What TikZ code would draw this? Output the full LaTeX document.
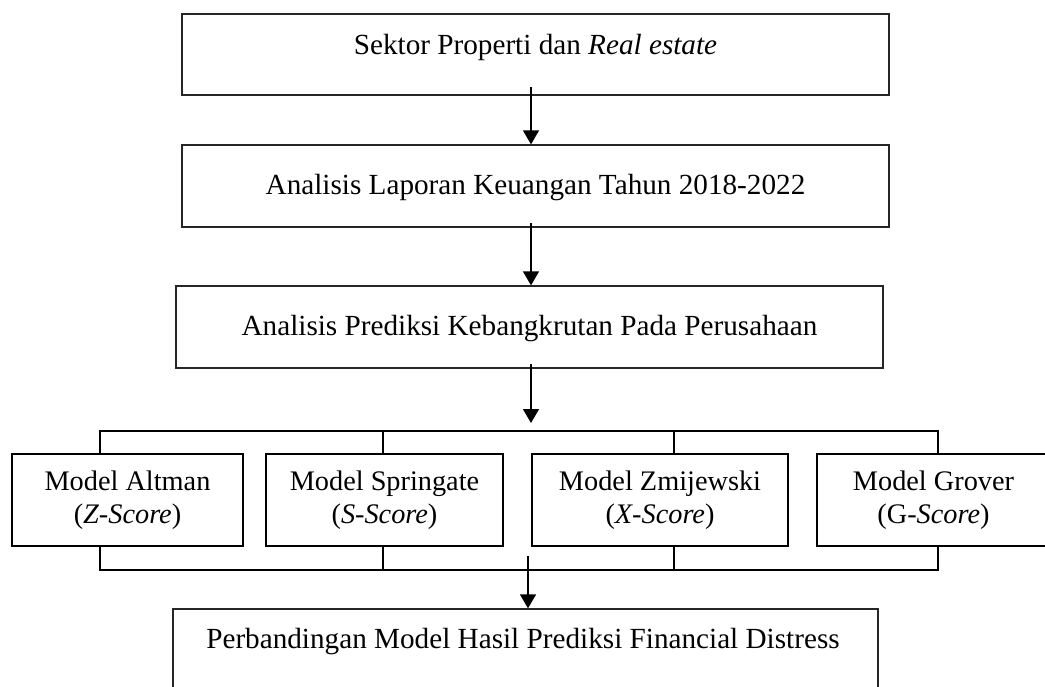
\documentclass[tikz,border=0pt]{standalone}
\usepackage{fontspec}
\setmainfont{Liberation Serif}
\usetikzlibrary{arrows.meta}
\begin{document}
\begin{tikzpicture}[x=1pt,y=-1pt,
 box/.style={draw=black!85, line width=1.3pt, inner sep=0pt},
 mbox/.style={draw=black, line width=2pt, inner sep=0pt, align=center,
   font=\fontsize{28.3}{33}\selectfont},
 lbl/.style={font=\fontsize{29.2}{33}\selectfont, inner sep=0pt, anchor=base},
 bus/.style={line width=2pt},
 arr/.style={line width=1.3pt, -{Triangle[width=16pt,length=14pt]}}]
\useasboundingbox (0,0) rectangle (1045,686);
% main boxes
\node[box, minimum width=707pt, minimum height=81pt] (b1) at (535.5,54.5) {};
\node[box, minimum width=707pt, minimum height=82pt] (b2) at (535.5,186) {};
\node[box, minimum width=707pt, minimum height=82pt] (b3) at (529.5,327) {};
\node[box, minimum width=705pt, minimum height=101pt] (b5) at (525.5,659.5) {};
% labels
\node[lbl] (t1) at (535.5,54) {Sektor Properti dan \textit{Real estate}};
\node[lbl] (t2) at (535.5,194) {Analisis Laporan Keuangan Tahun 2018-2022};
\node[lbl] (t3) at (529.5,335) {Analisis Prediksi Kebangkrutan Pada Perusahaan};
\node[lbl] (t5) at (523,648) {Perbandingan Model Hasil Prediksi Financial Distress};
% model boxes
\node[mbox, minimum width=231pt, minimum height=92pt] (m1) at (127.5,500) {Model Altman\\(\textit{Z-Score})};
\node[mbox, minimum width=237pt, minimum height=92pt] (m2) at (384.5,500) {Model Springate\\(\textit{S-Score})};
\node[mbox, minimum width=256pt, minimum height=92pt] (m3) at (660,500) {Model Zmijewski\\(\textit{X-Score})};
\node[mbox, minimum width=233pt, minimum height=92pt] (m4) at (933.5,500) {Model Grover\\(G-\textit{Score})};
% bus coordinates
\coordinate (ta) at (100,431);
\coordinate (tb) at (383,431);
\coordinate (tc) at (674,431);
\coordinate (td) at (938,431);
\coordinate (ba) at (100,570);
\coordinate (bb) at (383,570);
\coordinate (bc) at (674,570);
\coordinate (bd) at (938,570);
\draw[bus] (ta |- m1.north) -- (ta) -- (td) -- (td |- m4.north);
\draw[bus] (tb) -- (tb |- m2.north);
\draw[bus] (tc) -- (tc |- m3.north);
\draw[bus] (ba |- m1.south) -- (ba) -- (bd) -- (bd |- m4.south);
\draw[bus] (bb) -- (bb |- m2.south);
\draw[bus] (bc) -- (bc |- m3.south);
% arrows
\coordinate (a1) at (531,87);
\coordinate (a2) at (531,223);
\coordinate (a3) at (531,364);
\coordinate (j) at (531,423);
\coordinate (a4) at (528,556);
\draw[arr] (a1) -- (a1 |- b2.north);
\draw[arr] (a2) -- (a2 |- b3.north);
\draw[arr] (a3) -- (j);
\draw[arr] (a4) -- (a4 |- b5.north);
\end{tikzpicture}
\end{document}
